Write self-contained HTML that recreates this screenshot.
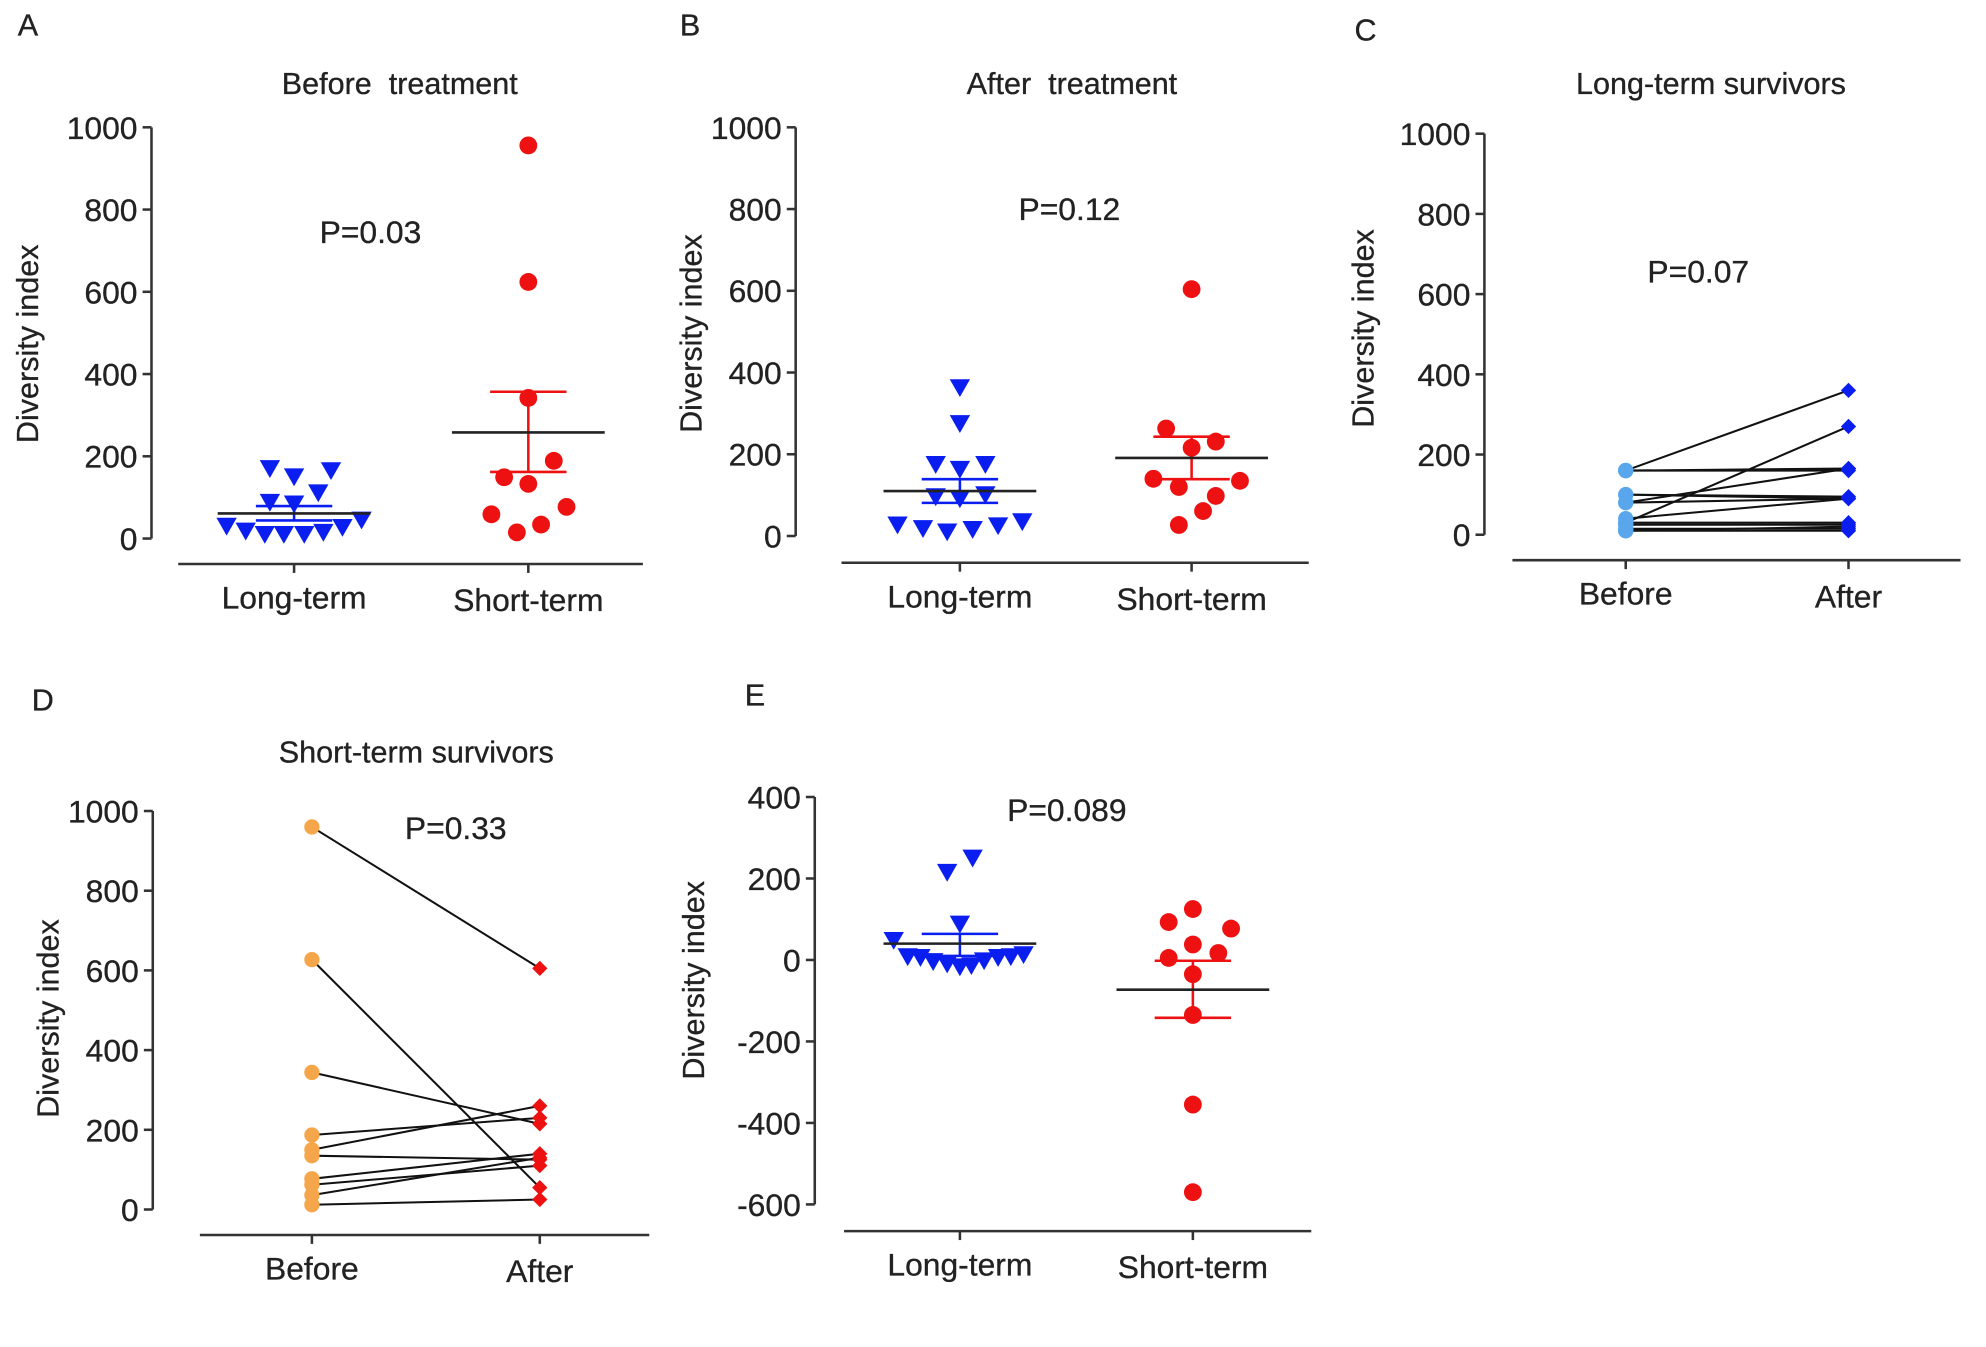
<!DOCTYPE html>
<html><head><meta charset="utf-8"><style>
html,body{margin:0;padding:0;background:#fff;}
svg{display:block;font-family:"Liberation Sans",Arial,sans-serif;}
svg text{stroke:#222;stroke-width:0.25px;}
</style></head><body>
<svg id="fig" width="1986" height="1347" viewBox="0 0 1560 1058" preserveAspectRatio="none" xmlns="http://www.w3.org/2000/svg"></svg>
<script>
// ---- Data ----
const ticks1000 = [0,200,400,600,800,1000];
const ticksE = [-600,-400,-200,0,200,400];
const groupsLS = ["Long-term","Short-term"];
const groupsBA = ["Before","After"];
// Panel A
const aLongVals = [172,152,167,113,90,86,47,32,20,12,12,12,17,29];
const aLongJit  = [-19,0,29,19,-19,0,53,-53,-38,-23,-8,8,23,38];
const aLongStats = [61,79,44];
const aShortVals = [956,624,342,189,149,133,77,59,34,15];
const aShortJit  = [0,0,0,20,-19,0,30,-29,10,-9];
const aShortStats = [258,357,162];
// Panel B
const bLongVals = [365,277,177,165,177,98,93,103,29,20,12,18,27,37];
const bLongJit  = [0,0,-19,0,20,-19,0,20,-49,-29,-10,10,30,49];
const bLongStats = [110,139,81];
const bShortVals = [604,263,231,216,140,135,120,98,61,27];
const bShortJit  = [0,-20,19,0,-30,38,-10,19,9,-10];
const bShortStats = [191,243,139];
// Panel C (paired)
const cBefore = [160,30,160,160,100,80,80,40,25,10,15,10,30,100];
const cAfter  = [360,270,165,160,90,165,90,90,25,10,15,20,30,95];
// Panel D (paired)
const dBefore = [960,627,344,187,150,135,77,62,36,12];
const dAfter  = [605,55,215,230,260,125,140,110,130,25];
// Panel E
const eLongVals = [252,217,90,50,10,8,-2,-8,-15,-12,0,8,10,15];
const eLongJit  = [10,-10,0,-52,-41,-31,-21,-10,0,9,19,30,40,50];
const eLongStats = [40,64,10];
const eShortVals = [125,93,77,38,5,17,-35,-135,-355,-570];
const eShortJit  = [0,-19,30,0,-19,20,0,0,0,0];
const eShortStats = [-73,-2,-142];

const NS="http://www.w3.org/2000/svg";
const svg=document.getElementById('fig');
function mk(tag,attrs,parent,txt){const e=document.createElementNS(NS,tag);for(const k in attrs)e.setAttribute(k,attrs[k]);if(txt!==undefined)e.textContent=txt;(parent||svg).appendChild(e);return e;}

function panel(cfg){
  const g=mk('g',{});
  
  
  const [v0,v1]=cfg.domain;
  const y=v=>cfg.yBot-(v-v0)/(v1-v0)*(cfg.yBot-cfg.yTop);
  const ax=cfg.axisX;
  let e=mk('line',{x1:ax,y1:cfg.yTop,x2:ax,y2:cfg.yBot,stroke:'#333','stroke-width':2},g);
  
  cfg.ticks.forEach(t=>{
    mk('line',{x1:ax-7,y1:y(t),x2:ax,y2:y(t),stroke:'#333','stroke-width':2},g);
    const tl=mk('text',{x:ax-11,y:y(t)+9,'text-anchor':'end','font-size':25,fill:'#222'},g,String(t));
    
  });
  e=mk('line',{x1:cfg.xl0,y1:cfg.xAxisY,x2:cfg.xl1,y2:cfg.xAxisY,stroke:'#333','stroke-width':2},g);
  
  cfg.cats.forEach((c,i)=>{
    mk('line',{x1:cfg.cx[i],y1:cfg.xAxisY,x2:cfg.cx[i],y2:cfg.xAxisY+7,stroke:'#333','stroke-width':2},g);
    const tl=mk('text',{x:cfg.cx[i],y:cfg.xAxisY+35+(i?2:0),'text-anchor':'middle','font-size':25,fill:'#222'},g,c);
    
  });
  e=mk('text',{transform:`translate(${cfg.ylx},${cfg.yly}) rotate(-90)`,'text-anchor':'middle','font-size':24,fill:'#222'},g,'Diversity index');
  
  e=mk('text',{x:cfg.letterXY[0],y:cfg.letterXY[1],'font-size':24,fill:'#222'},g,cfg.letter);
  
  if(cfg.title){e=mk('text',{x:cfg.titleXY[0],y:cfg.titleXY[1],'text-anchor':'middle','font-size':24,fill:'#222',style:'white-space:pre'},g,cfg.title);
    }
  e=mk('text',{x:cfg.pXY[0],y:cfg.pXY[1],'text-anchor':'middle','font-size':25,fill:'#222'},g,cfg.p);
  
  return {g,y};
}
function tri(g,x,yy,col){const s=8;const p=mk('polygon',{points:`${x-s},${yy-6} ${x+s},${yy-6} ${x},${yy+8}`,fill:col},g);
  }
function dot(g,x,yy,col,r){const c=mk('circle',{cx:x,cy:yy,r:r||7,fill:col},g);
  }
function dia(g,x,yy,col){const s=6;const p=mk('polygon',{points:`${x},${yy-s} ${x+s},${yy} ${x},${yy+s} ${x-s},${yy}`,fill:col},g);
  }
function stats(g,y,cx,st,col,meanW,semW){
  let l=mk('line',{x1:cx,y1:y(st[1]),x2:cx,y2:y(st[2]),stroke:col,'stroke-width':2},g);
  
  [st[1],st[2]].forEach(v=>{const c=mk('line',{x1:cx-semW,y1:y(v),x2:cx+semW,y2:y(v),stroke:col,'stroke-width':2},g);
    });
  l=mk('line',{x1:cx-meanW,y1:y(st[0]),x2:cx+meanW,y2:y(st[0]),stroke:'#222','stroke-width':2},g);
  
}
const BLUE='#0a1ef0',RED='#ee1111';

// Panel A
let P=panel({letter:'A',letterXY:[14,28],title:'Before  treatment',titleXY:[314,74],p:'P=0.03',pXY:[291,191],
  domain:[0,1000],ticks:ticks1000,axisX:119,yTop:100,yBot:423,xAxisY:443,xl0:140,xl1:505,cx:[231,415],cats:groupsLS,ylx:30,yly:270});
aLongVals.forEach((v,i)=>tri(P.g,231+aLongJit[i],P.y(v),BLUE));
aShortVals.forEach((v,i)=>dot(P.g,415+aShortJit[i],P.y(v),RED));
stats(P.g,P.y,231,aLongStats,BLUE,60,30);
stats(P.g,P.y,415,aShortStats,RED,60,30);

// Panel B
P=panel({letter:'B',letterXY:[534,28],title:'After  treatment',titleXY:[842,74],p:'P=0.12',pXY:[840,173],
  domain:[0,1000],ticks:ticks1000,axisX:625,yTop:100,yBot:421,xAxisY:442,xl0:661,xl1:1028,cx:[754,936],cats:groupsLS,ylx:551,yly:262});
bLongVals.forEach((v,i)=>tri(P.g,754+bLongJit[i],P.y(v),BLUE));
bShortVals.forEach((v,i)=>dot(P.g,936+bShortJit[i],P.y(v),RED));
stats(P.g,P.y,754,bLongStats,BLUE,60,30);
stats(P.g,P.y,936,bShortStats,RED,60,30);

// Panel C
P=panel({letter:'C',letterXY:[1064,32],title:'Long-term survivors',titleXY:[1344,74],p:'P=0.07',pXY:[1334,222],
  domain:[0,1000],ticks:ticks1000,axisX:1166,yTop:105,yBot:420,xAxisY:440,xl0:1188,xl1:1540,cx:[1277,1452],cats:groupsBA,ylx:1079,yly:258});
cBefore.forEach((v,i)=>{const l=mk('line',{x1:1277,y1:P.y(v),x2:1452,y2:P.y(cAfter[i]),stroke:'#111','stroke-width':1.6},P.g);
  });
cBefore.forEach(v=>dot(P.g,1277,P.y(v),'#5aa6ec',6));
cAfter.forEach(v=>dia(P.g,1452,P.y(v),'#0a1ef0'));

// Panel D
P=panel({letter:'D',letterXY:[25,558],title:'Short-term survivors',titleXY:[327,599],p:'P=0.33',pXY:[358,659],
  domain:[0,1000],ticks:ticks1000,axisX:120,yTop:637,yBot:950,xAxisY:970,xl0:157,xl1:510,cx:[245,424],cats:groupsBA,ylx:46,yly:800});
dBefore.forEach((v,i)=>{const l=mk('line',{x1:245,y1:P.y(v),x2:424,y2:P.y(dAfter[i]),stroke:'#111','stroke-width':1.6},P.g);
  });
dBefore.forEach(v=>dot(P.g,245,P.y(v),'#f5a54a',6));
dAfter.forEach(v=>dia(P.g,424,P.y(v),'#ee1111'));

// Panel E
P=panel({letter:'E',letterXY:[585,554],title:null,p:'P=0.089',pXY:[838,645],
  domain:[-600,400],ticks:ticksE,axisX:640,yTop:626,yBot:946,xAxisY:967,xl0:663,xl1:1030,cx:[754,937],cats:groupsLS,ylx:553,yly:770});
eLongVals.forEach((v,i)=>tri(P.g,754+eLongJit[i],P.y(v),BLUE));
eShortVals.forEach((v,i)=>dot(P.g,937+eShortJit[i],P.y(v),RED));
stats(P.g,P.y,754,eLongStats,BLUE,60,30);
stats(P.g,P.y,937,eShortStats,RED,60,30);
</script>
</body></html>
